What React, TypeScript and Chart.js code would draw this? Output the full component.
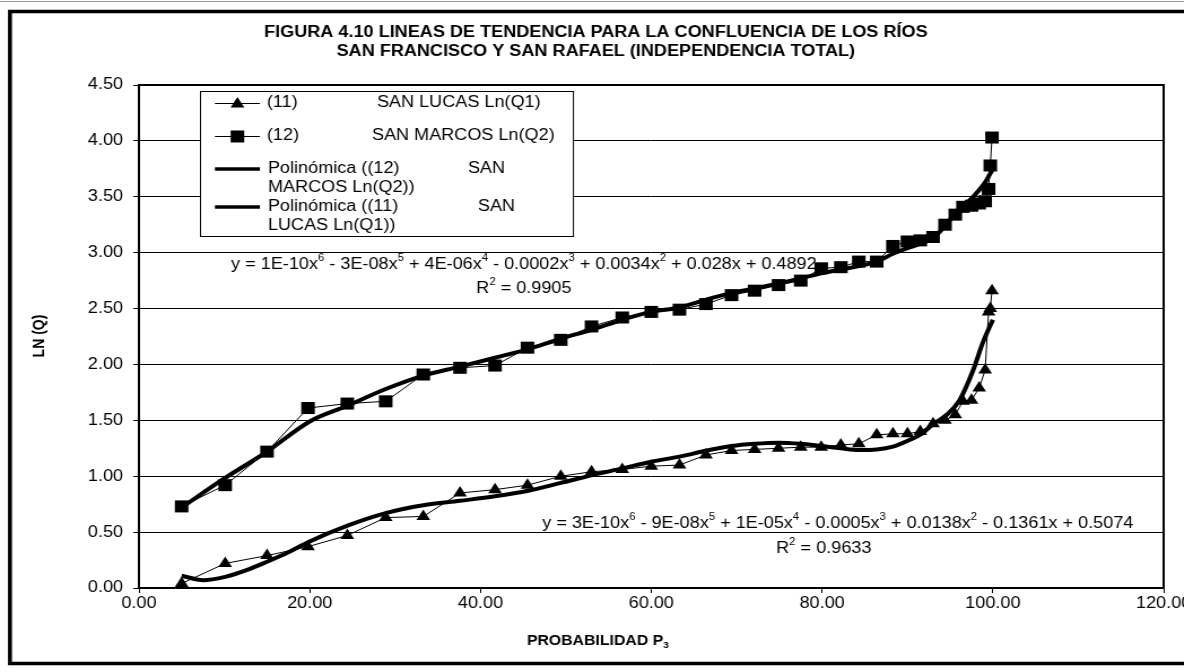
import React, { useEffect, useRef } from 'react';
import { Chart, registerables } from 'chart.js';

Chart.register(...registerables);

// ---------------- data ----------------
const probability = [5.0, 10.1, 15.0, 19.8, 24.4, 28.9, 33.3, 37.6, 41.7, 45.5, 49.4, 53.0, 56.6, 60.0, 63.3, 66.4, 69.4, 72.1, 74.9, 77.5, 79.9, 82.2, 84.3, 86.4, 88.3, 90.0, 91.5, 93.0, 94.4, 95.6, 96.5, 97.5, 98.4, 99.1, 99.5, 99.7, 99.9];
const sanLucas = [0.04, 0.22, 0.29, 0.37, 0.47, 0.63, 0.64, 0.85, 0.88, 0.92, 1.0, 1.04, 1.06, 1.09, 1.1, 1.19, 1.23, 1.24, 1.25, 1.26, 1.26, 1.28, 1.29, 1.37, 1.38, 1.38, 1.4, 1.47, 1.5, 1.55, 1.67, 1.68, 1.79, 1.95, 2.47, 2.5, 2.66];
const sanMarcos = [0.73, 0.92, 1.22, 1.61, 1.65, 1.67, 1.91, 1.97, 1.99, 2.15, 2.22, 2.34, 2.42, 2.47, 2.49, 2.54, 2.62, 2.66, 2.71, 2.75, 2.86, 2.87, 2.92, 2.92, 3.06, 3.1, 3.11, 3.14, 3.25, 3.34, 3.41, 3.42, 3.44, 3.46, 3.57, 3.78, 4.03];

const marcosTrendX = [5, 10, 15, 20, 24.4, 28.9, 33.3, 37.6, 41.7, 45.5, 49.4, 53, 56.6, 60, 63.3, 66.4, 69.4, 72.1, 74.9, 77.5, 79.9, 82.2, 84.3, 86.4, 88.3, 90, 91.5, 93, 94.4, 95.6, 96.5, 97.3, 98.5, 99.1, 100];
const marcosTrend = [0.72, 0.98, 1.22, 1.49, 1.63, 1.78, 1.9, 1.98, 2.06, 2.135, 2.23, 2.31, 2.4, 2.47, 2.51, 2.58, 2.64, 2.68, 2.725, 2.77, 2.815, 2.85, 2.88, 2.92, 2.99, 3.04, 3.08, 3.13, 3.24, 3.35, 3.42, 3.47, 3.57, 3.63, 3.75];

const lucasTrendX = [5, 7.5, 10.1, 12.6, 15, 17.5, 19.8, 24.5, 28.9, 33.3, 37.6, 41.7, 45.6, 49.4, 53.1, 56.6, 60, 63.3, 66.5, 69.4, 72.1, 74.9, 77.5, 79.9, 82.2, 84.3, 86.4, 88.3, 90.1, 91.7, 93, 94.6, 96.1, 97.7, 98.8, 100];
const lucasTrend = [0.11, 0.07, 0.1, 0.16, 0.235, 0.32, 0.41, 0.56, 0.67, 0.74, 0.78, 0.82, 0.87, 0.94, 1.01, 1.07, 1.13, 1.175, 1.23, 1.27, 1.29, 1.3, 1.29, 1.27, 1.25, 1.235, 1.24, 1.265, 1.32, 1.38, 1.465, 1.55, 1.68, 1.95, 2.19, 2.4];

const xMin = 0, xMax = 120, xStep = 20;
const yMin = 0, yMax = 4.5, yStep = 0.5;

const titleLines = [
  'FIGURA 4.10 LINEAS DE TENDENCIA PARA LA CONFLUENCIA DE LOS RÍOS',
  'SAN FRANCISCO Y SAN RAFAEL (INDEPENDENCIA TOTAL)',
];
const xTitle = 'PROBABILIDAD P_3';
const yTitle = 'LN (Q)';
const eqMarcos = 'y = 1E-10x^6 - 3E-08x^5 + 4E-06x^4 - 0.0002x^3 + 0.0034x^2 + 0.028x + 0.4892';
const r2Marcos = 'R^2 = 0.9905';
const eqLucas = 'y = 3E-10x^6 - 9E-08x^5 + 1E-05x^4 - 0.0005x^3 + 0.0138x^2 - 0.1361x + 0.5074';
const r2Lucas = 'R^2 = 0.9633';
const legendLucas = ['(11)', 'SAN LUCAS Ln(Q1)'];
const legendMarcos = ['(12)', 'SAN MARCOS Ln(Q2)'];
const legendTrendMarcos = ['Polinómica ((12)', 'SAN', 'MARCOS Ln(Q2))'];
const legendTrendLucas = ['Polinómica ((11)', 'SAN', 'LUCAS Ln(Q1))'];

// ---------------- layout ----------------
const SX = 1.13; // horizontal stretch of the reference picture
const W = Math.round(1184 / SX);
const H = 672;
const rx = (v: number) => v / SX;
const FONT = '"Liberation Sans", Arial, Helvetica, sans-serif';

function drawRich(ctx: CanvasRenderingContext2D, text: string, x: number, y: number, size: number, bold: boolean, align: 'left' | 'center' | 'right') {
  const parts: { t: string; k: '' | 'sup' | 'sub' }[] = [];
  const re = /([\^_])(\d)/g;
  let last = 0;
  let m: RegExpExecArray | null;
  while ((m = re.exec(text))) {
    if (m.index > last) parts.push({ t: text.slice(last, m.index), k: '' });
    parts.push({ t: m[2], k: m[1] === '^' ? 'sup' : 'sub' });
    last = m.index + m[0].length;
  }
  if (last < text.length) parts.push({ t: text.slice(last), k: '' });
  const w = bold ? 'bold ' : '';
  const small = Math.round(size * 0.62);
  let total = 0;
  for (const p of parts) {
    ctx.font = `${w}${p.k ? small : size}px ${FONT}`;
    total += ctx.measureText(p.t).width;
  }
  let cx = align === 'left' ? x : align === 'center' ? x - total / 2 : x - total;
  ctx.textAlign = 'left';
  ctx.textBaseline = 'middle';
  for (const p of parts) {
    ctx.font = `${w}${p.k ? small : size}px ${FONT}`;
    const dy = p.k === 'sup' ? -size * 0.42 : p.k === 'sub' ? size * 0.3 : 0;
    ctx.fillText(p.t, cx, y + dy);
    cx += ctx.measureText(p.t).width;
  }
}

function triangle(ctx: CanvasRenderingContext2D, x: number, y: number, r: number) {
  ctx.beginPath();
  ctx.moveTo(x, y - r);
  ctx.lineTo(x + r * Math.sin(Math.PI * 2 / 3), y + r * 0.5);
  ctx.lineTo(x - r * Math.sin(Math.PI * 2 / 3), y + r * 0.5);
  ctx.closePath();
  ctx.fill();
}

const decorPlugin = {
  id: 'decor',
  beforeDatasetsDraw(chart: any) {
    const { ctx, chartArea: a } = chart;
    ctx.save();
    ctx.strokeStyle = '#000';
    ctx.lineWidth = 2;
    ctx.strokeRect(a.left, a.top, a.right - a.left, a.bottom - a.top);
    ctx.restore();
  },
  afterDraw(chart: any) {
    const { ctx } = chart;
    ctx.save();
    ctx.strokeStyle = '#999';
    ctx.lineWidth = 1;
    ctx.beginPath();
    ctx.moveTo(0, 1.5);
    ctx.lineTo(W, 1.5);
    ctx.stroke();
    ctx.strokeStyle = '#000';
    ctx.lineWidth = 3.5;
    ctx.strokeRect(rx(10), 11.5, W + 20, 652);

    ctx.fillStyle = '#000';
    drawRich(ctx, titleLines[0], rx(596), 33, 16, true, 'center');
    drawRich(ctx, titleLines[1], rx(596), 52, 16, true, 'center');
    drawRich(ctx, xTitle, rx(598), 641, 14, true, 'center');
    ctx.save();
    ctx.translate(rx(40), 336);
    ctx.rotate(-Math.PI / 2);
    drawRich(ctx, yTitle, 0, 0, 14, true, 'center');
    ctx.restore();

    drawRich(ctx, eqMarcos, rx(524), 265, 16, false, 'center');
    drawRich(ctx, r2Marcos, rx(524), 289, 16, false, 'center');
    drawRich(ctx, eqLucas, rx(838), 524, 16, false, 'center');
    drawRich(ctx, r2Lucas, rx(824), 549, 16, false, 'center');

    const L = rx(200), T = 91, R = rx(573), B = 236;
    ctx.fillStyle = '#fff';
    ctx.fillRect(L, T, R - L, B - T);
    ctx.strokeStyle = '#000';
    ctx.lineWidth = 1;
    ctx.strokeRect(Math.round(L) + 0.5, T + 0.5, R - L, B - T);
    ctx.fillStyle = '#000';
    const s0 = rx(215), s1 = rx(260), sm = (s0 + s1) / 2;
    ctx.lineWidth = 1;
    ctx.beginPath(); ctx.moveTo(s0, 103.5); ctx.lineTo(s1, 103.5); ctx.stroke();
    triangle(ctx, sm, 104, 7);
    drawRich(ctx, legendLucas[0], rx(267), 103, 16, false, 'left');
    drawRich(ctx, legendLucas[1], rx(377), 103, 16, false, 'left');
    ctx.beginPath(); ctx.moveTo(s0, 136.5); ctx.lineTo(s1, 136.5); ctx.stroke();
    ctx.fillRect(sm - 6, 136.5 - 6, 12, 12);
    drawRich(ctx, legendMarcos[0], rx(267), 136, 16, false, 'left');
    drawRich(ctx, legendMarcos[1], rx(372), 136, 16, false, 'left');
    ctx.lineWidth = 3.5;
    ctx.beginPath(); ctx.moveTo(s0, 169); ctx.lineTo(s1, 169); ctx.stroke();
    drawRich(ctx, legendTrendMarcos[0], rx(268), 169, 16, false, 'left');
    drawRich(ctx, legendTrendMarcos[1], rx(468), 169, 16, false, 'left');
    drawRich(ctx, legendTrendMarcos[2], rx(268), 188, 16, false, 'left');
    ctx.beginPath(); ctx.moveTo(s0, 207); ctx.lineTo(s1, 207); ctx.stroke();
    drawRich(ctx, legendTrendLucas[0], rx(268), 207, 16, false, 'left');
    drawRich(ctx, legendTrendLucas[1], rx(478), 207, 16, false, 'left');
    drawRich(ctx, legendTrendLucas[2], rx(268), 226, 16, false, 'left');
    ctx.restore();
  },
};

const toPts = (xs: number[], ys: number[]) => xs.map((x, i) => ({ x, y: ys[i] }));

export default function App() {
  const ref = useRef<HTMLCanvasElement | null>(null);
  useEffect(() => {
    document.body.style.margin = '0';
    const canvas = ref.current!;
    const chart = new Chart(canvas, {
      type: 'line',
      data: {
        datasets: [
          {
            label: 'Polinómica ((12) SAN MARCOS Ln(Q2))',
            data: toPts(marcosTrendX, marcosTrend),
            borderColor: '#000',
            borderWidth: 4,
            pointRadius: 0,
            cubicInterpolationMode: 'monotone',
            clip: false as any,
            order: 2,
          },
          {
            label: 'Polinómica ((11) SAN LUCAS Ln(Q1))',
            data: toPts(lucasTrendX, lucasTrend),
            borderColor: '#000',
            borderWidth: 4,
            pointRadius: 0,
            cubicInterpolationMode: 'monotone',
            clip: false as any,
            order: 2,
          },
          {
            label: '(11) SAN LUCAS Ln(Q1)',
            data: toPts(probability, sanLucas),
            borderColor: '#000',
            borderWidth: 1,
            backgroundColor: '#000',
            pointStyle: 'triangle',
            pointRadius: 7,
            pointBorderWidth: 0,
            tension: 0,
            clip: false as any,
            order: 1,
          },
          {
            label: '(12) SAN MARCOS Ln(Q2)',
            data: toPts(probability, sanMarcos),
            borderColor: '#000',
            borderWidth: 1,
            backgroundColor: '#000',
            pointStyle: 'rect',
            pointRadius: 8.5,
            pointBorderWidth: 0,
            tension: 0,
            clip: false as any,
            order: 1,
          },
        ],
      },
      options: {
        animation: false,
        responsive: false,
        devicePixelRatio: 1,
        layout: { padding: { left: 0, top: 85, right: W - Math.round(rx(1164)), bottom: 0 } },
        plugins: { legend: { display: false }, title: { display: false }, tooltip: { enabled: false } },
        scales: {
          x: {
            type: 'linear',
            min: xMin,
            max: xMax,
            grid: { drawOnChartArea: false, drawTicks: true, tickLength: 5, color: '#000', lineWidth: 1 },
            border: { display: false },
            ticks: {
              stepSize: xStep,
              padding: 1,
              color: '#000',
              font: { family: FONT, size: 16 },
              callback: (v: any) => Number(v).toFixed(2),
              maxRotation: 0,
              autoSkip: false,
            },
            afterFit: (s: any) => { s.height = 84; s.paddingLeft = 0; s.paddingRight = 0; },
          },
          y: {
            type: 'linear',
            min: yMin,
            max: yMax,
            grid: { drawTicks: true, tickLength: 5, color: '#000', lineWidth: 1 },
            border: { display: false },
            ticks: {
              stepSize: yStep,
              padding: 9,
              color: '#000',
              font: { family: FONT, size: 16 },
              callback: (v: any) => Number(v).toFixed(2),
              autoSkip: false,
            },
            afterFit: (s: any) => { s.width = Math.round(rx(139)); s.paddingTop = 0; s.paddingBottom = 0; },
          },
        },
      },
      plugins: [decorPlugin],
    } as any);
    return () => chart.destroy();
  }, []);
  return (
    <canvas
      ref={ref}
      width={W}
      height={H}
      style={{ display: 'block', width: '1184px', height: '672px', background: '#fff' }}
    />
  );
}
